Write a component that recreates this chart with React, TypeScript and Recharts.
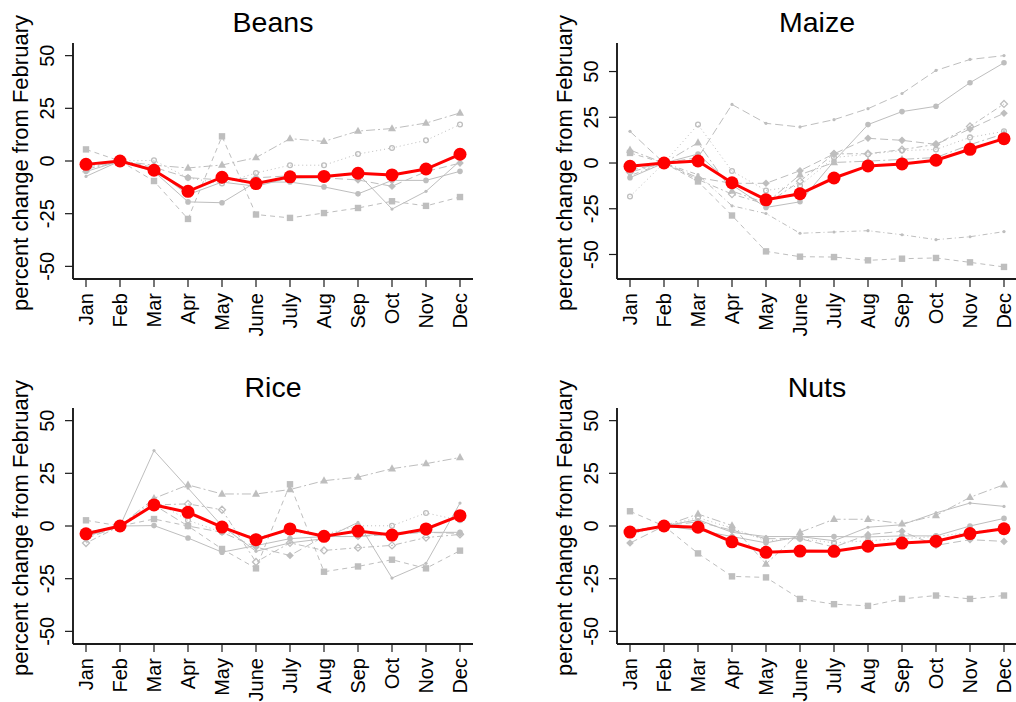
import { LineChart, Line, XAxis, YAxis } from "recharts";

const MONTHS = ["Jan", "Feb", "Mar", "Apr", "May", "June", "July", "Aug", "Sep", "Oct", "Nov", "Dec"];
const TICKS = [-50, -25, 0, 25, 50];

// Beans
const beansSquare = [5.5, 0, -9.5, -27.5, 11.7, -25.4, -27, -24.7, -22.3, -19.1, -21.3, -17.1];
const beansTriangle = [-4, 0, -2, -3.3, -1.9, 1.6, 10.6, 9.3, 14.2, 15.4, 18, 22.8];
const beansOpenCircle = [-3, 0, 0.3, -8, -10.7, -5.7, -2, -2, 3.3, 6.2, 9.8, 17.3];
const beansDiamond = [-3, 0, -3, -7.9, -9, -8, -7, -8, -9, -12, -5, -1];
const beansCircle = [-5, 0, -5, -19.4, -19.8, -10, -10, -12.3, -15.6, -9.2, -9.2, -4.9];
const beansDot = [-7.3, 0, -4, -16, -10, -12, -8, -8, -6, -22.8, -14.4, 0];
const beansMean = [-1.6, 0, -4.4, -14.4, -7.7, -10.7, -7.5, -7.3, -5.8, -6.6, -3.8, 3.2];

// Maize
const maizeSquare = [5.5, 0, -10.1, -28.7, -48.3, -51.2, -51.4, -53.2, -52.3, -51.9, -54.3, -56.8];
const maizeDotLow = [-6.9, 0, -6.4, -23.4, -27.6, -38.4, -37.7, -37, -39.2, -41.9, -40.3, -37.5];
const maizeDotHigh = [17.3, 0, 3, 32, 21.7, 19.7, 23.7, 29.7, 38, 50.6, 56.6, 58.7];
const maizeCircle = [-8, 0, 4.9, -12, -24.3, -21.2, 1, 21, 28.1, 31, 43.9, 54.8];
const maizeOpenDiamond = [-5, 0, -9, -17, -22.5, -10, 5, 5.1, 7.3, 10.2, 20, 32.3];
const maizeDiamond = [-4, 0, -8, -11.1, -11.1, -4.2, 5, 13.5, 12.4, 10.2, 18.6, 27.2];
const maizeOpenCircle = [-18.3, 0, 21, -4.4, -15, -12.4, 3, 4.8, 6.8, 7.4, 14, 17.3];
const maizeTriangle = [7.1, 0, 11.1, -15.3, -22, -6.4, 0.3, 1, 2, 3, 10, 16];
const maizeMean = [-1.8, 0, 1.1, -10.8, -20.1, -16.8, -8.2, -1.6, -0.5, 1.5, 7.5, 13.3];

// Rice
const riceSquare = [2.7, 0, 3.3, 0, -10.9, -20.1, 19.8, -21.7, -19.2, -16, -20.1, -11.7];
const riceTriangle = [-3, 0, 13.1, 19.5, 15.2, 15.2, 17.3, 21.5, 23.2, 27.2, 29.6, 32.5];
const riceDot = [-5, 0, 35.8, 18, 0, -12, -8, -6, 1.7, -24.7, -17.7, 10.9];
const riceOpenDiamond = [-8.1, 0, 10, 10.5, 7.7, -17.1, -8, -11.6, -10.3, -9.2, -5.5, -4];
const riceCircle = [-4, 0, 0.2, -5.7, -12.4, -9.3, -6, -5, -5, -3, -3, -3];
const riceOpenCircle = [-5, 0, 12, 2.7, -3, -5, -3, -4, 0.1, 0.1, 6.2, 2.7];
const riceDiamond = [-6, 0, 10, 0, -3, -10, -14, -5, -5, -4, -3, -3.5];
const riceMean = [-3.7, 0, 10, 6.5, -0.5, -6.5, -1.4, -4.9, -2.4, -4.3, -1.4, 4.9];

// Nuts
const nutsSquare = [7, 0, -13, -23.9, -24.4, -34.6, -37.1, -37.9, -34.6, -33, -34.6, -33];
const nutsTriangle = [-2, 0, 5.7, 0.2, -18, -3, 3.2, 3.2, 1.1, 5, 13.6, 19.6];
const nutsDot = [-3, 0, 3, -3, -5, -5, -7, -0.6, 0.6, 6.2, 10.9, 9.3];
const nutsCircle = [-3, 0, -2, -5, -8, -5, -5, -5.2, -4.7, -4.7, 0, 3.6];
const nutsDiamond = [-8.1, 0, 2, -2, -6, -6, -10, -4.1, -2.5, -9.2, -6.5, -7.3];
const nutsOpenCircle = [-4, 0, 4, -1, -7, -6, -8, -7, -6, -5, -3, -1];
const nutsMean = [-2.9, 0, -0.6, -7.5, -12.5, -11.9, -12, -9.6, -8.1, -7.2, -3.6, -1.3];

const GREY = "#BEBEBE";
const RED = "#FF0000";
const FONT = "'Liberation Sans', Arial, Helvetica, sans-serif";

const STYLES: Record<string, { dash?: string; shape: string }> = {
  square: { dash: "5 4", shape: "square" },
  triangle: { dash: "9 3 2 3", shape: "triangle" },
  openCircle: { dash: "1 3", shape: "openCircle" },
  diamond: { dash: "8 4", shape: "diamond" },
  circle: { shape: "circle" },
  dot: { shape: "dot" },
  dotLong: { dash: "8 4", shape: "dot" },
  dotDash: { dash: "1 3 5 3", shape: "dot" },
  openDiamond: { dash: "2 3 6 3", shape: "openDiamond" },
};

const panels = [
  {
    title: "Beans", left: 0, top: 0, domain: [-56, 56],
    mean: beansMean,
    series: [
      { key: "sq", values: beansSquare, style: "square" },
      { key: "tr", values: beansTriangle, style: "triangle" },
      { key: "oc", values: beansOpenCircle, style: "openCircle" },
      { key: "di", values: beansDiamond, style: "diamond" },
      { key: "ci", values: beansCircle, style: "circle" },
      { key: "dt", values: beansDot, style: "dot" },
    ],
  },
  {
    title: "Maize", left: 544, top: 0, domain: [-63.4, 65.6],
    mean: maizeMean,
    series: [
      { key: "sq", values: maizeSquare, style: "square" },
      { key: "dl", values: maizeDotLow, style: "dotDash" },
      { key: "dh", values: maizeDotHigh, style: "dotLong" },
      { key: "ci", values: maizeCircle, style: "circle" },
      { key: "od", values: maizeOpenDiamond, style: "openDiamond" },
      { key: "di", values: maizeDiamond, style: "diamond" },
      { key: "oc", values: maizeOpenCircle, style: "openCircle" },
      { key: "tr", values: maizeTriangle, style: "triangle" },
    ],
  },
  {
    title: "Rice", left: 0, top: 365, domain: [-56, 56],
    mean: riceMean,
    series: [
      { key: "sq", values: riceSquare, style: "square" },
      { key: "tr", values: riceTriangle, style: "triangle" },
      { key: "dt", values: riceDot, style: "dot" },
      { key: "od", values: riceOpenDiamond, style: "openDiamond" },
      { key: "ci", values: riceCircle, style: "circle" },
      { key: "oc", values: riceOpenCircle, style: "openCircle" },
      { key: "di", values: riceDiamond, style: "diamond" },
    ],
  },
  {
    title: "Nuts", left: 544, top: 365, domain: [-56, 56],
    mean: nutsMean,
    series: [
      { key: "sq", values: nutsSquare, style: "square" },
      { key: "tr", values: nutsTriangle, style: "triangle" },
      { key: "dt", values: nutsDot, style: "dot" },
      { key: "ci", values: nutsCircle, style: "circle" },
      { key: "di", values: nutsDiamond, style: "diamond" },
      { key: "oc", values: nutsOpenCircle, style: "openCircle" },
    ],
  },
];

function Marker({ cx, cy, shape }: any) {
  if (cx == null || cy == null) return null;
  switch (shape) {
    case "square":
      return <rect x={cx - 3.2} y={cy - 3.2} width={6.4} height={6.4} fill={GREY} />;
    case "triangle":
      return <polygon points={`${cx},${cy - 4.4} ${cx - 4},${cy + 2.7} ${cx + 4},${cy + 2.7}`} fill={GREY} />;
    case "circle":
      return <circle cx={cx} cy={cy} r={2.8} fill={GREY} />;
    case "dot":
      return <circle cx={cx} cy={cy} r={1.6} fill={GREY} />;
    case "openCircle":
      return <circle cx={cx} cy={cy} r={2.4} fill="none" stroke={GREY} strokeWidth={1.3} />;
    case "diamond":
      return <polygon points={`${cx},${cy - 3.8} ${cx + 3.8},${cy} ${cx},${cy + 3.8} ${cx - 3.8},${cy}`} fill={GREY} />;
    case "openDiamond":
      return <polygon points={`${cx},${cy - 3.5} ${cx + 3.5},${cy} ${cx},${cy + 3.5} ${cx - 3.5},${cy}`} fill="none" stroke={GREY} strokeWidth={1.3} />;
    default:
      return null;
  }
}

function XTick({ x, y, payload }: any) {
  return (
    <text transform={`translate(${x + 7},${y}) rotate(-90)`} textAnchor="end" fontSize={20} fontFamily={FONT} fill="#000">
      {payload.value}
    </text>
  );
}

function YTick({ x, y, payload }: any) {
  return (
    <text transform={`translate(${x},${y}) rotate(-90)`} textAnchor="middle" fontSize={20} fontFamily={FONT} fill="#000">
      {payload.value}
    </text>
  );
}

const boxLine = { stroke: "#1a1a1a", strokeWidth: 1.9 };

function Panel({ p }: any) {
  const rows = MONTHS.map((m, i) => {
    const r: any = { month: m, mean: p.mean[i] };
    p.series.forEach((s: any) => (r[s.key] = s.values[i]));
    return r;
  });
  return (
    <div style={{ position: "absolute", left: p.left, top: p.top }}>
      <LineChart width={508} height={337} data={rows} margin={{ top: 43, right: 35, bottom: 0, left: 0 }}>
        <XAxis dataKey="month" height={58} padding={{ left: 13, right: 13 }} interval={0}
          tickSize={8} tickMargin={6} tick={<XTick />} axisLine={boxLine} tickLine={{ stroke: "#1a1a1a", strokeWidth: 1.2 }} />
        <XAxis xAxisId="top" dataKey="month" orientation="top" height={0} padding={{ left: 13, right: 13 }}
          tick={false} tickLine={false} axisLine={boxLine} />
        <YAxis type="number" width={73} domain={p.domain} ticks={TICKS} allowDataOverflow interval={0}
          tickSize={8} tickMargin={11.5} tick={<YTick />} axisLine={boxLine} tickLine={{ stroke: "#1a1a1a", strokeWidth: 1.2 }} />
        <YAxis yAxisId="right" type="number" orientation="right" width={0} domain={p.domain} allowDataOverflow
          tick={false} tickLine={false} axisLine={boxLine} />
        {p.series.map((s: any) => {
          const st = STYLES[s.style];
          return (
            <Line key={s.key} dataKey={s.key} type="linear" stroke={GREY} strokeWidth={1}
              strokeDasharray={st.dash} isAnimationActive={false} activeDot={false}
              dot={(d: any) => <Marker key={`${s.key}-${d.index}`} cx={d.cx} cy={d.cy} shape={st.shape} />} />
          );
        })}
        <Line dataKey="mean" type="linear" stroke={RED} strokeWidth={3} isAnimationActive={false}
          activeDot={false} dot={{ r: 6.5, fill: RED, stroke: "none" }} />
      </LineChart>
    </div>
  );
}

export default function App() {
  return (
    <div style={{ position: "absolute", left: 0, top: 0, width: 1016, height: 702, overflow: "hidden", background: "#fff" }}>
      {panels.map((p) => (
        <Panel key={p.title} p={p} />
      ))}
      <svg width={1016} height={702} style={{ position: "absolute", left: 0, top: 0, pointerEvents: "none" }}>
        {panels.map((p) => (
          <g key={p.title}>
            <text x={p.left + 273} y={p.top + 32} textAnchor="middle" fontSize={28.5} fontFamily={FONT} fill="#000">
              {p.title}
            </text>
            <text transform={`translate(${p.left + 28},${p.top + 163}) rotate(-90)`} textAnchor="middle"
              fontSize={22} fontFamily={FONT} fill="#000">
              percent change from February
            </text>
          </g>
        ))}
      </svg>
    </div>
  );
}
